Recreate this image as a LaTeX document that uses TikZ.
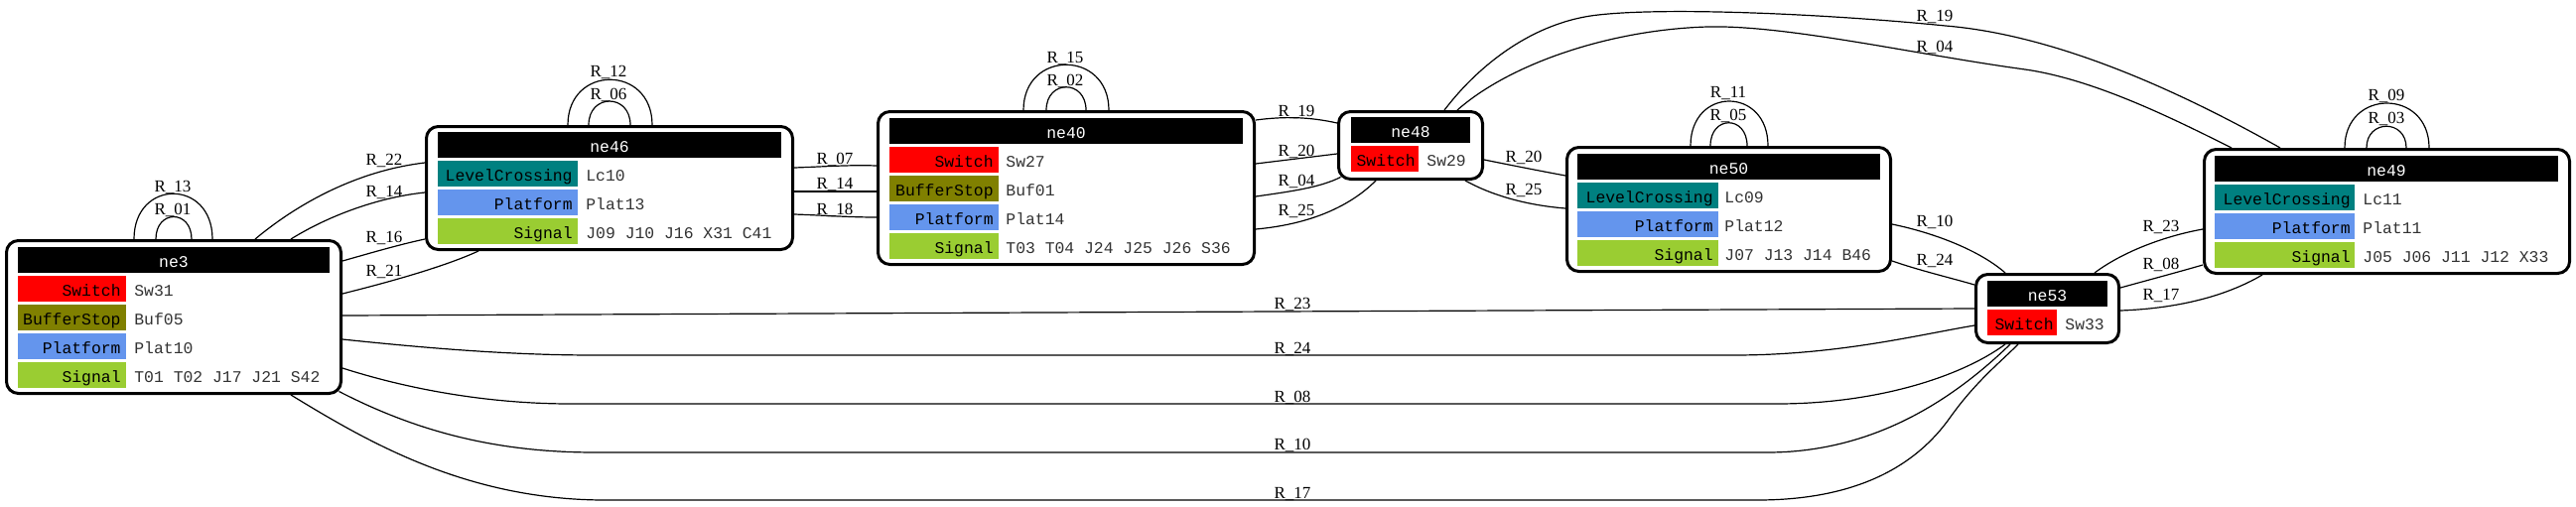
\documentclass[tikz,border=0pt]{standalone}
\usepackage{fontspec}
\setmainfont{Liberation Serif}
\setmonofont{Liberation Mono}
\usetikzlibrary{calc}
\definecolor{swc}{HTML}{FF0000}
\definecolor{bufc}{HTML}{808000}
\definecolor{platc}{HTML}{6495ED}
\definecolor{sigc}{HTML}{9ACD32}
\definecolor{lcc}{HTML}{008080}
\definecolor{valc}{HTML}{333333}
\newcommand{\monosize}{\fontsize{8.2}{10}\ttfamily}
\newcommand{\labsize}{\fontsize{8.5}{10}\selectfont}

\begin{document}
\begin{tikzpicture}[x=0.5pt, y=-0.5pt,
  nebox/.style={draw, line width=1.5pt, rounded corners=6pt, fill=white, inner sep=0pt},
  elabel/.style={font=\labsize, anchor=base, inner sep=0pt},
  head/.style={font=\monosize, text=white, anchor=base, inner sep=0pt},
  key/.style={font=\monosize, text=black, anchor=base east, inner sep=0pt},
  val/.style={font=\monosize, text=valc, anchor=base west, inner sep=0pt},
  link/.style={line width=0.6pt}]
  \useasboundingbox (0,0) rectangle (2595,510);

  % boxes
  \node[nebox, minimum width=168.5pt, minimum height=77pt] (ne3) at (175,319.5) {};
  \node[nebox, minimum width=184.5pt, minimum height=62pt] (ne46) at (614,189.5) {};
  \node[nebox, minimum width=189.5pt, minimum height=77pt] (ne40) at (1074,189.5) {};
  \node[nebox, minimum width=72.5pt, minimum height=34pt] (ne48) at (1421,146.5) {};
  \node[nebox, minimum width=163pt, minimum height=62.5pt] (ne50) at (1741.5,211) {};
  \node[nebox, minimum width=184pt, minimum height=62.5pt] (ne49) at (2404.5,213) {};
  \node[nebox, minimum width=72pt, minimum height=34.5pt] (ne53) at (2062.5,311) {};

  % ne3
  \fill[black] (18,249) rectangle (332,275);
  \node[head] (ne3t) at (175,269.5) {ne3};
  \foreach \y/\c/\k/\v [count=\i] in {278/swc/Switch/Sw31, 307/bufc/BufferStop/Buf05,
      336/platc/Platform/Plat10, 365/sigc/Signal/T01 T02 J17 J21 S42} {
    \fill[\c] (18,\y) rectangle (127,\y+26);
    \node[key] (ne3k\i) at (122,\y+20.5) {\k};
    \node[val] (ne3v\i) at (135,\y+20.5) {\v};
  }

  % ne46
  \fill[black] (441,133) rectangle (787,159);
  \node[head] (ne46t) at (614,153.5) {ne46};
  \foreach \y/\c/\k/\v [count=\i] in {162/lcc/LevelCrossing/Lc10, 191/platc/Platform/Plat13,
      220/sigc/Signal/J09 J10 J16 X31 C41} {
    \fill[\c] (441,\y) rectangle (582,\y+26);
    \node[key] (ne46k\i) at (577,\y+20.5) {\k};
    \node[val] (ne46v\i) at (590,\y+20.5) {\v};
  }

  % ne40
  \fill[black] (896,119) rectangle (1252,145);
  \node[head] (ne40t) at (1074,139.5) {ne40};
  \foreach \y/\c/\k/\v [count=\i] in {148/swc/Switch/Sw27, 177/bufc/BufferStop/Buf01,
      206/platc/Platform/Plat14, 235/sigc/Signal/T03 T04 J24 J25 J26 S36} {
    \fill[\c] (896,\y) rectangle (1006,\y+26);
    \node[key] (ne40k\i) at (1001,\y+20.5) {\k};
    \node[val] (ne40v\i) at (1013,\y+20.5) {\v};
  }

  % ne48
  \fill[black] (1361,118) rectangle (1481,144);
  \node[head] (ne48t) at (1421,138.5) {ne48};
  \fill[swc] (1361,147) rectangle (1429,173);
  \node[key] (ne48k1) at (1426,167.5) {Switch};
  \node[val] (ne48v1) at (1437,167.5) {Sw29};

  % ne50
  \fill[black] (1589,155) rectangle (1894,181);
  \node[head] (ne50t) at (1741.5,175.5) {ne50};
  \foreach \y/\c/\k/\v [count=\i] in {184/lcc/LevelCrossing/Lc09, 213/platc/Platform/Plat12,
      242/sigc/Signal/J07 J13 J14 B46} {
    \fill[\c] (1589,\y) rectangle (1731,\y+26);
    \node[key] (ne50k\i) at (1726,\y+20.5) {\k};
    \node[val] (ne50v\i) at (1737,\y+20.5) {\v};
  }

  % ne49
  \fill[black] (2231,157) rectangle (2577,183);
  \node[head] (ne49t) at (2404,177.5) {ne49};
  \foreach \y/\c/\k/\v [count=\i] in {186/lcc/LevelCrossing/Lc11, 215/platc/Platform/Plat11,
      244/sigc/Signal/J05 J06 J11 J12 X33} {
    \fill[\c] (2231,\y) rectangle (2372,\y+26);
    \node[key] (ne49k\i) at (2368,\y+20.5) {\k};
    \node[val] (ne49v\i) at (2380,\y+20.5) {\v};
  }

  % ne53
  \fill[black] (2002,283) rectangle (2123,309);
  \node[head] (ne53t) at (2062.5,303.5) {ne53};
  \fill[swc] (2002,312) rectangle (2072,338);
  \node[key] (ne53k1) at (2069,332.5) {Switch};
  \node[val] (ne53v1) at (2080,332.5) {Sw33};

  % self loops
  \draw[link] (135,0 |- ne3.north) .. controls (135,180) and (214,180) .. (214,0 |- ne3.north);
  \draw[link] (157,0 |- ne3.north) .. controls (157,211) and (193,211) .. (193,0 |- ne3.north);
  \draw[link] (572,0 |- ne46.north) .. controls (572,65) and (657,65) .. (657,0 |- ne46.north);
  \draw[link] (593,0 |- ne46.north) .. controls (593,94) and (635,94) .. (635,0 |- ne46.north);
  \draw[link] (1031,0 |- ne40.north) .. controls (1031,50) and (1117,50) .. (1117,0 |- ne40.north);
  \draw[link] (1054,0 |- ne40.north) .. controls (1054,80) and (1094,80) .. (1094,0 |- ne40.north);
  \draw[link] (1703,0 |- ne50.north) .. controls (1703,87) and (1781,87) .. (1781,0 |- ne50.north);
  \draw[link] (1723,0 |- ne50.north) .. controls (1723,116) and (1760,116) .. (1760,0 |- ne50.north);
  \draw[link] (2362,0 |- ne49.north) .. controls (2362,89) and (2447,89) .. (2447,0 |- ne49.north);
  \draw[link] (2384,0 |- ne49.north) .. controls (2384,120) and (2424,120) .. (2424,0 |- ne49.north);

  % ne3 -- ne46
  \draw[link] (257,0 |- ne3.north) .. controls (300,205) and (360,172) .. (ne46.west |- 0,164);
  \draw[link] (293,0 |- ne3.north) .. controls (330,218) and (380,199) .. (ne46.west |- 0,194);
  \draw[link] (ne3.east |- 0,263) .. controls (370,256) and (400,247) .. (ne46.west |- 0,241);
  \draw[link] (ne3.east |- 0,296) .. controls (385,286) and (445,270) .. (482,0 |- ne46.south);

  % ne46 -- ne40
  \draw[link] (ne46.east |- 0,169) .. controls (830,168) and (855,166) .. (ne40.west |- 0,167);
  \draw[link] (ne46.east |- 0,193) -- (ne40.west |- 0,193);
  \draw[link] (ne46.east |- 0,216) .. controls (830,217) and (855,219) .. (ne40.west |- 0,219);

  % ne40 -- ne48
  \draw[link] (ne40.east |- 0,121) .. controls (1295,117) and (1320,118) .. (ne48.west |- 0,124);
  \draw[link] (ne40.east |- 0,165) -- (ne48.west |- 0,155);
  \draw[link] (ne40.east |- 0,198) .. controls (1300,193) and (1330,189) .. ($(ne48.south west)+(3.5,-3.5)$);
  \draw[link] (ne40.east |- 0,231) .. controls (1320,226) and (1360,208) .. (1386,0 |- ne48.south);

  % ne48 -- ne50
  \draw[link] (ne48.east |- 0,161) .. controls (1525,167) and (1550,172) .. (ne50.west |- 0,177);
  \draw[link] (1476,0 |- ne48.south) .. controls (1505,198) and (1540,207) .. (ne50.west |- 0,210);

  % ne48 -- ne49
  \draw[link] (1455,0 |- ne48.north) .. controls (1490,65) and (1545,22) .. (1610,15)
    .. controls (1680,7) and (1840,14) .. (1960,26)
    .. controls (2080,36) and (2210,100) .. (2297,0 |- ne49.north);
  \draw[link] (1468,0 |- ne48.north) .. controls (1520,65) and (1620,30) .. (1720,27)
    .. controls (1800,25) and (1930,55) .. (2040,70)
    .. controls (2110,80) and (2190,120) .. (2248,0 |- ne49.north);

  % ne50 -- ne53
  \draw[link] (ne50.east |- 0,226) .. controls (1950,235) and (1995,253) .. (2020,0 |- ne53.north);
  \draw[link] (ne50.east |- 0,263) .. controls (1935,273) and (1965,280) .. (ne53.west |- 0,287);

  % ne53 -- ne49
  \draw[link] (2110,0 |- ne53.north) .. controls (2138,254) and (2180,238) .. (ne49.west |- 0,231);
  \draw[link] (ne53.east |- 0,290) .. controls (2165,282) and (2195,274) .. (ne49.west |- 0,267);
  \draw[link] (ne53.east |- 0,313) .. controls (2190,311) and (2240,300) .. (2279,0 |- ne49.south);

  % ne3 -- ne53
  \draw[link] (ne3.east |- 0,318) -- (ne53.west |- 0,311);
  \draw[link] (ne3.east |- 0,342) .. controls (440,352) and (520,358) .. (600,358) -- (1746,358)
    .. controls (1850,358) and (1930,338) .. (ne53.west |- 0,328);
  \draw[link] (ne3.east |- 0,371) .. controls (420,395) and (500,407) .. (575,407) -- (1790,407)
    .. controls (1890,407) and (1975,380) .. (2020,0 |- ne53.south);
  \draw[link] ($(ne3.south east)+(-3.5,-3.5)$) .. controls (420,435) and (500,456) .. (600,456) -- (1780,456)
    .. controls (1880,456) and (1960,410) .. (2025,0 |- ne53.south);
  \draw[link] (293,0 |- ne3.south) .. controls (370,445) and (470,504) .. (610,504) -- (1770,504)
    .. controls (1870,504) and (1930,470) .. (1965,420)
    .. controls (1990,385) and (2015,365) .. (2033,0 |- ne53.south);

  % labels
  \node[elabel] (r13) at (174,193) {R\_13};
  \node[elabel] (r01) at (174,216) {R\_01};
  \node[elabel] (r12) at (613,77) {R\_12};
  \node[elabel] (r06) at (613,100) {R\_06};
  \node[elabel] (r15) at (1073,63) {R\_15};
  \node[elabel] (r02) at (1073,86) {R\_02};
  \node[elabel] (r11) at (1741,98) {R\_11};
  \node[elabel] (r05) at (1741,121) {R\_05};
  \node[elabel] (r09) at (2404,101) {R\_09};
  \node[elabel] (r03) at (2404,124) {R\_03};

  \node[elabel] (r22a) at (387,166) {R\_22};
  \node[elabel] (r14a) at (387,198) {R\_14};
  \node[elabel] (r16a) at (387,244) {R\_16};
  \node[elabel] (r21a) at (387,278) {R\_21};

  \node[elabel] (r07b) at (841,165) {R\_07};
  \node[elabel] (r14b) at (841,190) {R\_14};
  \node[elabel] (r18b) at (841,216) {R\_18};

  \node[elabel] (r19c) at (1306,117) {R\_19};
  \node[elabel] (r20c) at (1306,157) {R\_20};
  \node[elabel] (r04c) at (1306,187) {R\_04};
  \node[elabel] (r25c) at (1306,217) {R\_25};

  \node[elabel] (r20d) at (1535,163) {R\_20};
  \node[elabel] (r25d) at (1535,196) {R\_25};

  \node[elabel] (r19e) at (1949,21) {R\_19};
  \node[elabel] (r04e) at (1949,52) {R\_04};

  \node[elabel] (r10f) at (1949,228) {R\_10};
  \node[elabel] (r24f) at (1949,267) {R\_24};

  \node[elabel] (r23g) at (2177,233) {R\_23};
  \node[elabel] (r08g) at (2177,271) {R\_08};
  \node[elabel] (r17g) at (2177,302) {R\_17};

  \node[elabel] (r23h) at (1302,311) {R\_23};
  \node[elabel] (r24h) at (1302,356) {R\_24};
  \node[elabel] (r08h) at (1302,405) {R\_08};
  \node[elabel] (r10h) at (1302,453) {R\_10};
  \node[elabel] (r17h) at (1302,502) {R\_17};
\end{tikzpicture}
\end{document}
